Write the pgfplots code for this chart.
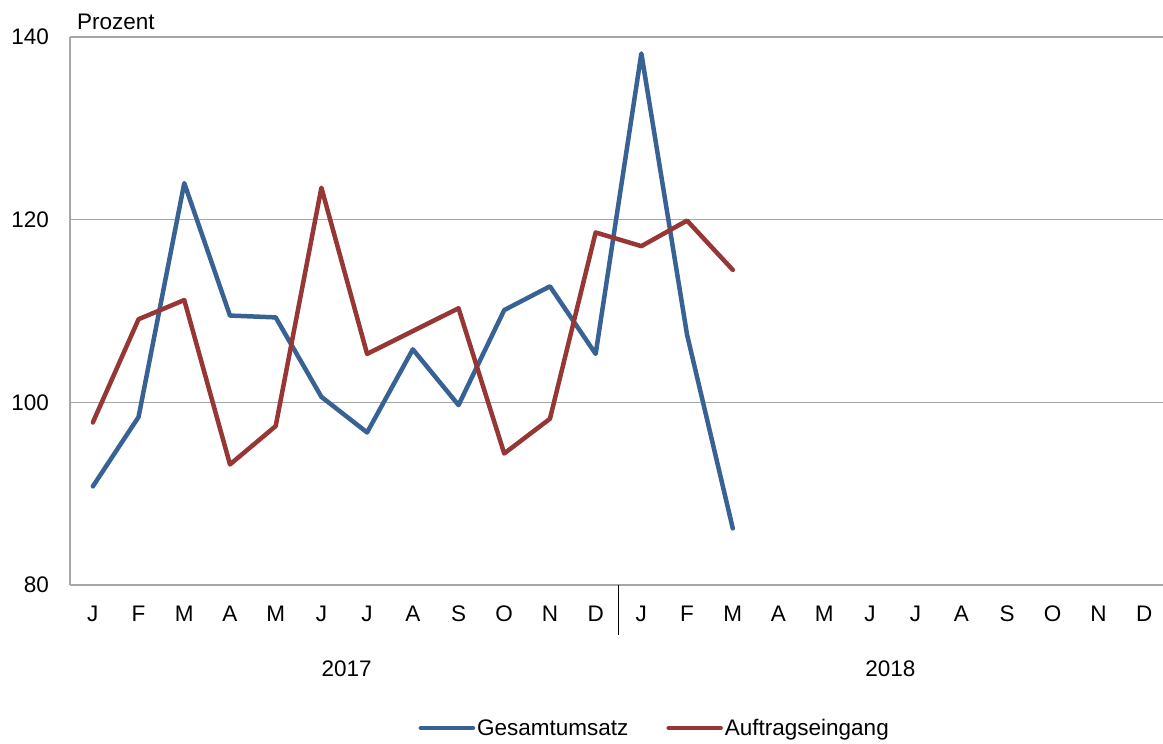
\documentclass[border=0pt]{standalone}
\usepackage{fontspec}
\setmainfont{Liberation Sans}
\usepackage{pgfplots}
\pgfplotsset{compat=1.18}
\definecolor{cblue}{RGB}{56,98,148}
\definecolor{cred}{RGB}{150,55,53}
\definecolor{cgrid}{RGB}{166,166,166}
\begin{document}
\begin{tikzpicture}
\begin{axis}[
 scale only axis, width=1097pt, height=548pt,
 xmin=-0.5, xmax=23.5, ymin=80, ymax=140,
 ytick={80,100,120,140},
 xtick={0,...,23},
 xticklabels={J,F,M,A,M,J,J,A,S,O,N,D,J,F,M,A,M,J,J,A,S,O,N,D},
 axis x line*=bottom, axis y line*=left,
 axis line style={cgrid, line width=1.2pt, -},
 ymajorgrids, grid style={cgrid, line width=1.2pt},
 major tick length=0pt,
 tick label style={font=\fontsize{22.5}{27}\selectfont},
 /pgf/number format/assume math mode=true,
 yticklabel style={anchor=east, inner sep=0pt, xshift=-21pt},
 xticklabel style={anchor=base, inner sep=0pt, yshift=-36pt},
 clip=false,
 legend style={at={(axis description cs:0.533,-0.261)}, anchor=center, draw=none,
   legend columns=2, font=\fontsize{22.5}{27}\selectfont,
   /tikz/every even column/.append style={column sep=36pt}},
 legend image code/.code={\draw[#1, line width=4.5pt, line cap=round] (0pt,0pt) -- (52pt,0pt);},
]
\addplot[cblue, line width=4.5pt, line join=round, line cap=round] coordinates {
(0,90.8) (1,98.4) (2,124.0) (3,109.5) (4,109.3) (5,100.6) (6,96.7) (7,105.8)
(8,99.7) (9,110.1) (10,112.7) (11,105.3) (12,138.2) (13,107.4) (14,86.2)};
\addlegendentry{Gesamtumsatz}
\addplot[cred, line width=4.5pt, line join=round, line cap=round] coordinates {
(0,97.8) (1,109.1) (2,111.2) (3,93.2) (4,97.4) (5,123.5) (6,105.3) (7,107.8)
(8,110.3) (9,94.4) (10,98.2) (11,118.6) (12,117.1) (13,119.9) (14,114.5)};
\addlegendentry{Auftragseingang}
\draw[black, line width=1.2pt] (axis cs:11.5,80) -- ([yshift=-50pt]axis cs:11.5,80);
\node[anchor=base, inner sep=0pt, font=\fontsize{22.5}{27}\selectfont] at ([yshift=-91pt]axis cs:5.55,80) {2017};
\node[anchor=base, inner sep=0pt, font=\fontsize{22.5}{27}\selectfont] at ([yshift=-91pt]axis cs:17.45,80) {2018};
\node[anchor=base west, inner sep=0pt, font=\fontsize{22.5}{27}\selectfont] at ([xshift=7pt,yshift=7pt]rel axis cs:0,1) {Prozent};
\coordinate (bl) at (rel axis cs:0,0);
\coordinate (tr) at (rel axis cs:1,1);
\end{axis}
\pgfresetboundingbox
\path[use as bounding box] ([shift={(-70pt,-158pt)}]bl) rectangle ([shift={(-4pt,37pt)}]tr);
\end{tikzpicture}
\end{document}
